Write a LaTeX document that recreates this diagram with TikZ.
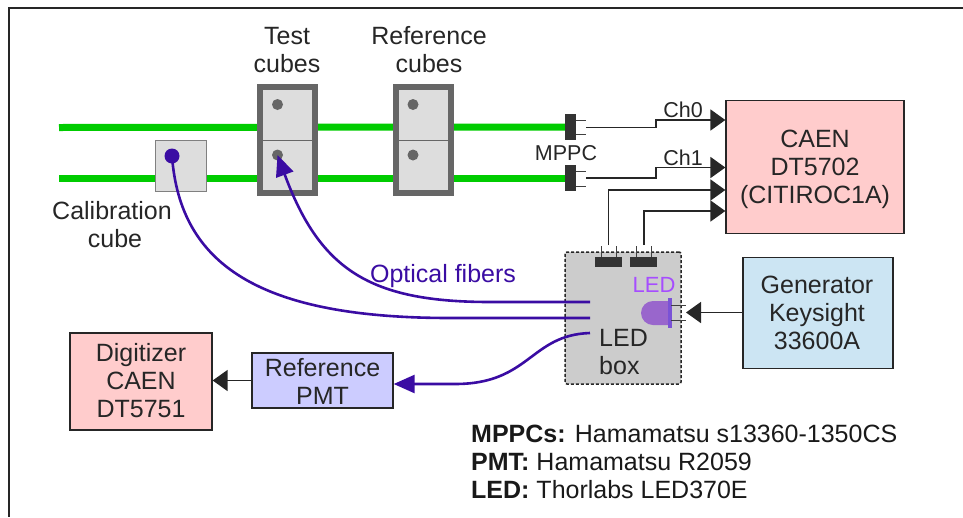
\documentclass[tikz,border=0pt]{standalone}
\usepackage{fontspec}
\setmainfont{Liberation Sans}
\usetikzlibrary{arrows.meta}
\definecolor{fibercol}{HTML}{3A0CA3}
\definecolor{fibergreen}{HTML}{00CC00}
\definecolor{cubegray}{HTML}{DDDDDD}
\definecolor{framegray}{HTML}{666666}
\definecolor{chipgray}{HTML}{333333}
\definecolor{redbox}{HTML}{FFCCCC}
\definecolor{bluebox}{HTML}{CCE5F3}
\definecolor{pmtbox}{HTML}{CCCCFF}
\definecolor{ledcol}{HTML}{9966CC}
\definecolor{ledtext}{HTML}{A64DFF}
\tikzset{
    label/.style={inner sep=0pt, align=center, text=black!85, font=\fontsize{25}{28}\selectfont},
    smalllabel/.style={label, font=\fontsize{21.5}{26}\selectfont},
    legend/.style={inner sep=0pt, anchor=base west, text=black!90, font=\fontsize{25}{28}\selectfont},
    device/.style={draw=black!85, line width=1.3pt, inner sep=0pt},
    chip/.style={fill=chipgray, draw=none, inner sep=0pt},
    wire/.style={draw=black!85, line width=1.8pt},
    pin/.style={draw=black!75, line width=1pt},
    sig/.style={wire, -{Triangle[length=15pt,width=21pt]}},
    fiber/.style={draw=fibercol, line width=2.6pt},
    fibertip/.style={fiber, -{Triangle[length=21pt,width=18pt]}},
    bar/.style={draw=fibergreen, line width=7pt},
}
\begin{document}
\begin{tikzpicture}[x=1pt, y=-1pt]
    \useasboundingbox (0,0) rectangle (963,517);
    \draw[black!85, line width=2pt] (963,8) -- (9,8) -- (9,517);

    \coordinate (barAin) at (59,127.5);
    \coordinate (barBin) at (59,178);
    \node[chip, minimum width=11pt, minimum height=26pt] (mppcA) at (570.5,127) {};
    \node[chip, minimum width=11pt, minimum height=26pt] (mppcB) at (570.5,178) {};
    \draw[bar] (barAin) -- (mppcA.west);
    \draw[bar] (barBin) -- (mppcB.west);

    % test and reference cubes
    \node[draw=framegray, line width=6pt, fill=cubegray, minimum width=55pt, minimum height=106pt, inner sep=0pt, outer sep=0pt] (testbox) at (287.5,140) {};
    \draw[framegray, line width=1pt] (testbox.west) -- (testbox.east);
    \node[draw=framegray, line width=6pt, fill=cubegray, minimum width=55pt, minimum height=106pt, inner sep=0pt, outer sep=0pt] (refbox) at (423.5,140) {};
    \draw[framegray, line width=1pt] (refbox.west) -- (refbox.east);
    \foreach \name/\x/\y in {testA/277.5/104.5, testB/277.5/155, refA/413/104.5, refB/413/155}
        \node[circle, fill=framegray, minimum size=11pt, inner sep=0pt] (\name) at (\x,\y) {};

    % calibration cube
    \node[draw=black!50, line width=1pt, fill=cubegray, minimum width=51pt, minimum height=51pt, inner sep=0pt] (calib) at (180.5,165.5) {};
    \node[circle, fill=fibercol, minimum size=15pt, inner sep=0pt] (calibdot) at (172,156) {};

    \node[label] (testlabel) at (287,50) {Test\\cubes};
    \node[label] (reflabel) at (429,50) {Reference\\cubes};
    \node[label] (caliblabel) at (112,225) {Calibration\\\hspace*{6pt}cube};
    \node[smalllabel] (mppclabel) at (566,153) {MPPC};

    % boxes
    \node[device, fill=redbox, minimum width=178pt, minimum height=133pt] (caen) at (815,167) {};
    \node[label] (caenlabel) at (815,169) {CAEN\\DT5702\\(CITIROC1A)};
    \node[device, fill=bluebox, minimum width=150pt, minimum height=111pt] (generator) at (818,313) {};
    \node[label] (generatorlabel) at (817,313) {Generator\\Keysight\\33600A};
    \node[device, fill=pmtbox, minimum width=141pt, minimum height=55pt] (pmt) at (322.5,380.5) {};
    \node[label] (pmtlabel) at (322.5,381.5) {Reference\\PMT};
    \node[device, fill=redbox, minimum width=142pt, minimum height=97pt] (digitizer) at (141,381.5) {};
    \node[label] (digitizerlabel) at (141,380.5) {Digitizer\\CAEN\\DT5751};

    % LED box
    \node[draw=black!85, densely dashed, line width=1.5pt, fill=black!20, rounded corners=2pt, minimum width=116pt, minimum height=132pt, inner sep=0pt] (ledbox) at (623,318) {};
    \node[chip, minimum width=27pt, minimum height=10pt] (sipmA) at (608.5,262) {};
    \node[chip, minimum width=27pt, minimum height=10pt] (sipmB) at (643.5,262) {};
    \node[label, anchor=west, align=left] (ledboxlabel) at (599,352.5) {LED\\box};
    \node[smalllabel, text=ledtext, font=\fontsize{22}{26}\selectfont] (ledlabel) at (654,285) {LED};
    \fill[ledcol] (670,301) -- (653,301) arc[start angle=90, end angle=270, radius=12pt] -- (670,325) -- cycle;
    \fill[ledcol!80!blue] (668,298) rectangle (671.5,328);

    % pins
    \coordinate (ledout) at (686,312.5);
    \foreach \y in {305.5,320}
        \draw[pin] (671,\y) -- (686,\y);
    \foreach \x in {601,616,636,651}
        \draw[pin] (\x,246) -- (\x,257);
    \foreach \y in {120,134,171,186}
        \draw[pin] (576,\y) -- (586,\y);

    % signal lines
    \coordinate (mppcAout) at (586,127.5);
    \coordinate (mppcBout) at (586,178);
    \coordinate (sipmAout) at (608.5,245);
    \coordinate (sipmBout) at (644,245);
    \draw[sig] (mppcAout) -- (656,127.5) -- (656,120) -- (caen.west |- 0,120);
    \draw[sig] (mppcBout) -- (656,178) -- (656,167.5) -- (caen.west |- 0,167.5);
    \draw[sig] (sipmAout) -- (608.5,190) -- (caen.west |- 0,190);
    \draw[sig] (sipmBout) -- (644,211) -- (caen.west |- 0,211);
    \draw[sig] (generator.west |- ledout) -- (ledout);
    \draw[sig] (pmt.west) -- (digitizer.east |- pmt.west);
    \node[smalllabel, anchor=south] (chA) at (683,118) {Ch0};
    \node[smalllabel, anchor=south] (chB) at (683,166) {Ch1};

    % fibers
    \coordinate (fiberA) at (590,302);
    \coordinate (fiberB) at (590,318);
    \coordinate (fiberC) at (590,333);
    \draw[fibertip] (fiberA) -- (490,302) .. controls (370,302) and (320,270) .. (testB.center);
    \draw[fiber] (fiberB) -- (450,318) .. controls (260,318) and (180,265) .. (calibdot.center);
    \draw[fibertip] (fiberC) .. controls (530,335) and (530,384) .. (455,384) -- (pmt.east |- 0,384);
    \node[label, text=fibercol, anchor=center] (fiberlabel) at (443,276) {Optical fibers};

    % parts list
    \node[legend] (legA) at (471,442) {\textbf{MPPCs:} Hamamatsu s13360-1350CS};
    \node[legend] (legB) at (471,470) {\textbf{PMT:} Hamamatsu R2059};
    \node[legend] (legC) at (471,498) {\textbf{LED:} Thorlabs LED370E};
\end{tikzpicture}
\end{document}
